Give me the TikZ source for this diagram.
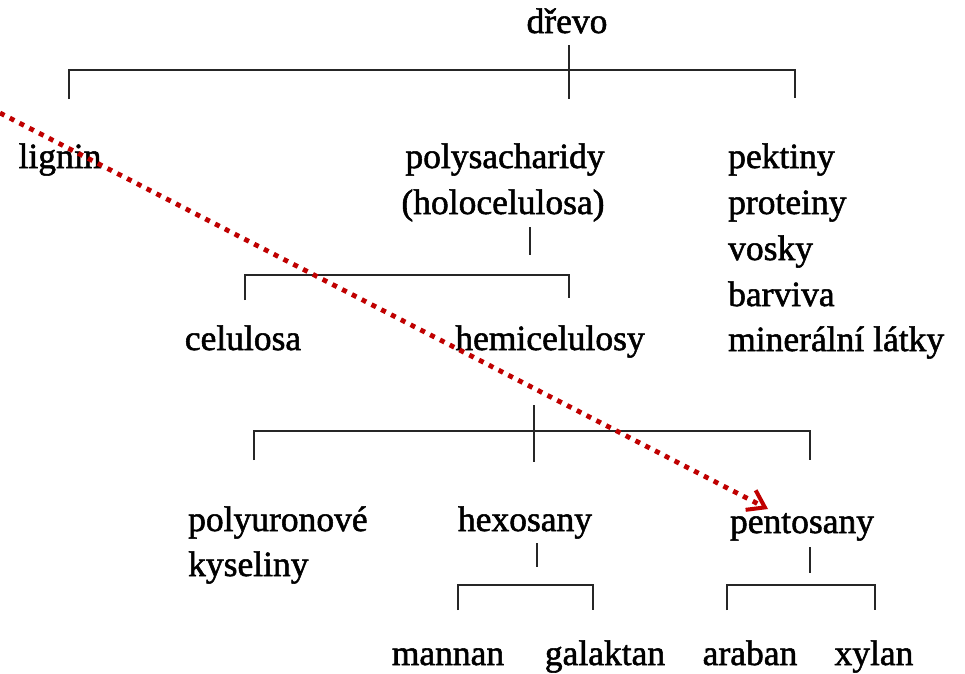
\documentclass[tikz,border=0pt]{standalone}
\usepackage{fontspec}
\setmainfont[FakeBold=1.5]{Liberation Serif}
\usetikzlibrary{arrows.meta}
\begin{document}
\begin{tikzpicture}[x=1pt,y=-1pt,
  lbl/.style={anchor=base,inner sep=0pt,font=\fontsize{35.5}{42}\selectfont},
  lbll/.style={anchor=base west,inner sep=0pt,font=\fontsize{35.5}{42}\selectfont},
  tree/.style={draw=black!85,line width=2.6pt},
  mark arrow/.style={draw={rgb,255:red,192;green,0;blue,0},line width=4.8pt,dash pattern=on 5pt off 6pt,
    -{Straight Barb[length=16pt,width=22pt,line width=4pt]}}]
\useasboundingbox (0,0) rectangle (965,673);
\fill[white] (0,0) rectangle (965,673);
% text nodes
\node[lbl] (drevo) at (567,33) {dřevo};
\node[lbl] (lignin) at (60,168) {lignin};
\node[lbl] (poly) at (505,168) {polysacharidy};
\node[lbl] (holo) at (503,214) {(holocelulosa)};
\node[lbll] (pekt) at (728,168) {pektiny};
\node[lbll] (prot) at (728,214) {proteiny};
\node[lbll] (vosk) at (728,260) {vosky};
\node[lbll] (barv) at (728,306) {barviva};
\node[lbll] (mine) at (728,351) {minerální látky};
\node[lbl] (celu) at (243,350) {celulosa};
\node[lbl] (hemi) at (550,350) {hemicelulosy};
\node[lbll] (pu) at (188,531) {polyuronové};
\node[lbll] (kys) at (188,576) {kyseliny};
\node[lbl] (hex) at (525,531) {hexosany};
\node[lbl] (pent) at (802,533) {pentosany};
\node[lbl] (mann) at (448,665) {mannan};
\node[lbl] (gal) at (605,665) {galaktan};
\node[lbl] (arab) at (750,665) {araban};
\node[lbl] (xyl) at (874,665) {xylan};
% tree connectors
\draw[tree] (569,45) -- (569,99);
\draw[tree] (69,99) -- (69,70) -- (795,70) -- (795,98);
\draw[tree] (530,227) -- (530,255);
\draw[tree] (245,300) -- (245,275) -- (569,275) -- (569,298);
\draw[tree] (534,405) -- (534,462);
\draw[tree] (254,460) -- (254,431) -- (810,431) -- (810,460);
\draw[tree] (537,543) -- (537,567);
\draw[tree] (458,610) -- (458,585) -- (593,585) -- (593,610);
\draw[tree] (810,547) -- (810,573);
\draw[tree] (727,610) -- (727,585) -- (875,585) -- (875,610);
% red dotted arrow
\coordinate (arrS) at (0,113);
\coordinate (arrE) at (768,509);
\draw[mark arrow] (arrS) -- (arrE);
\end{tikzpicture}
\end{document}
